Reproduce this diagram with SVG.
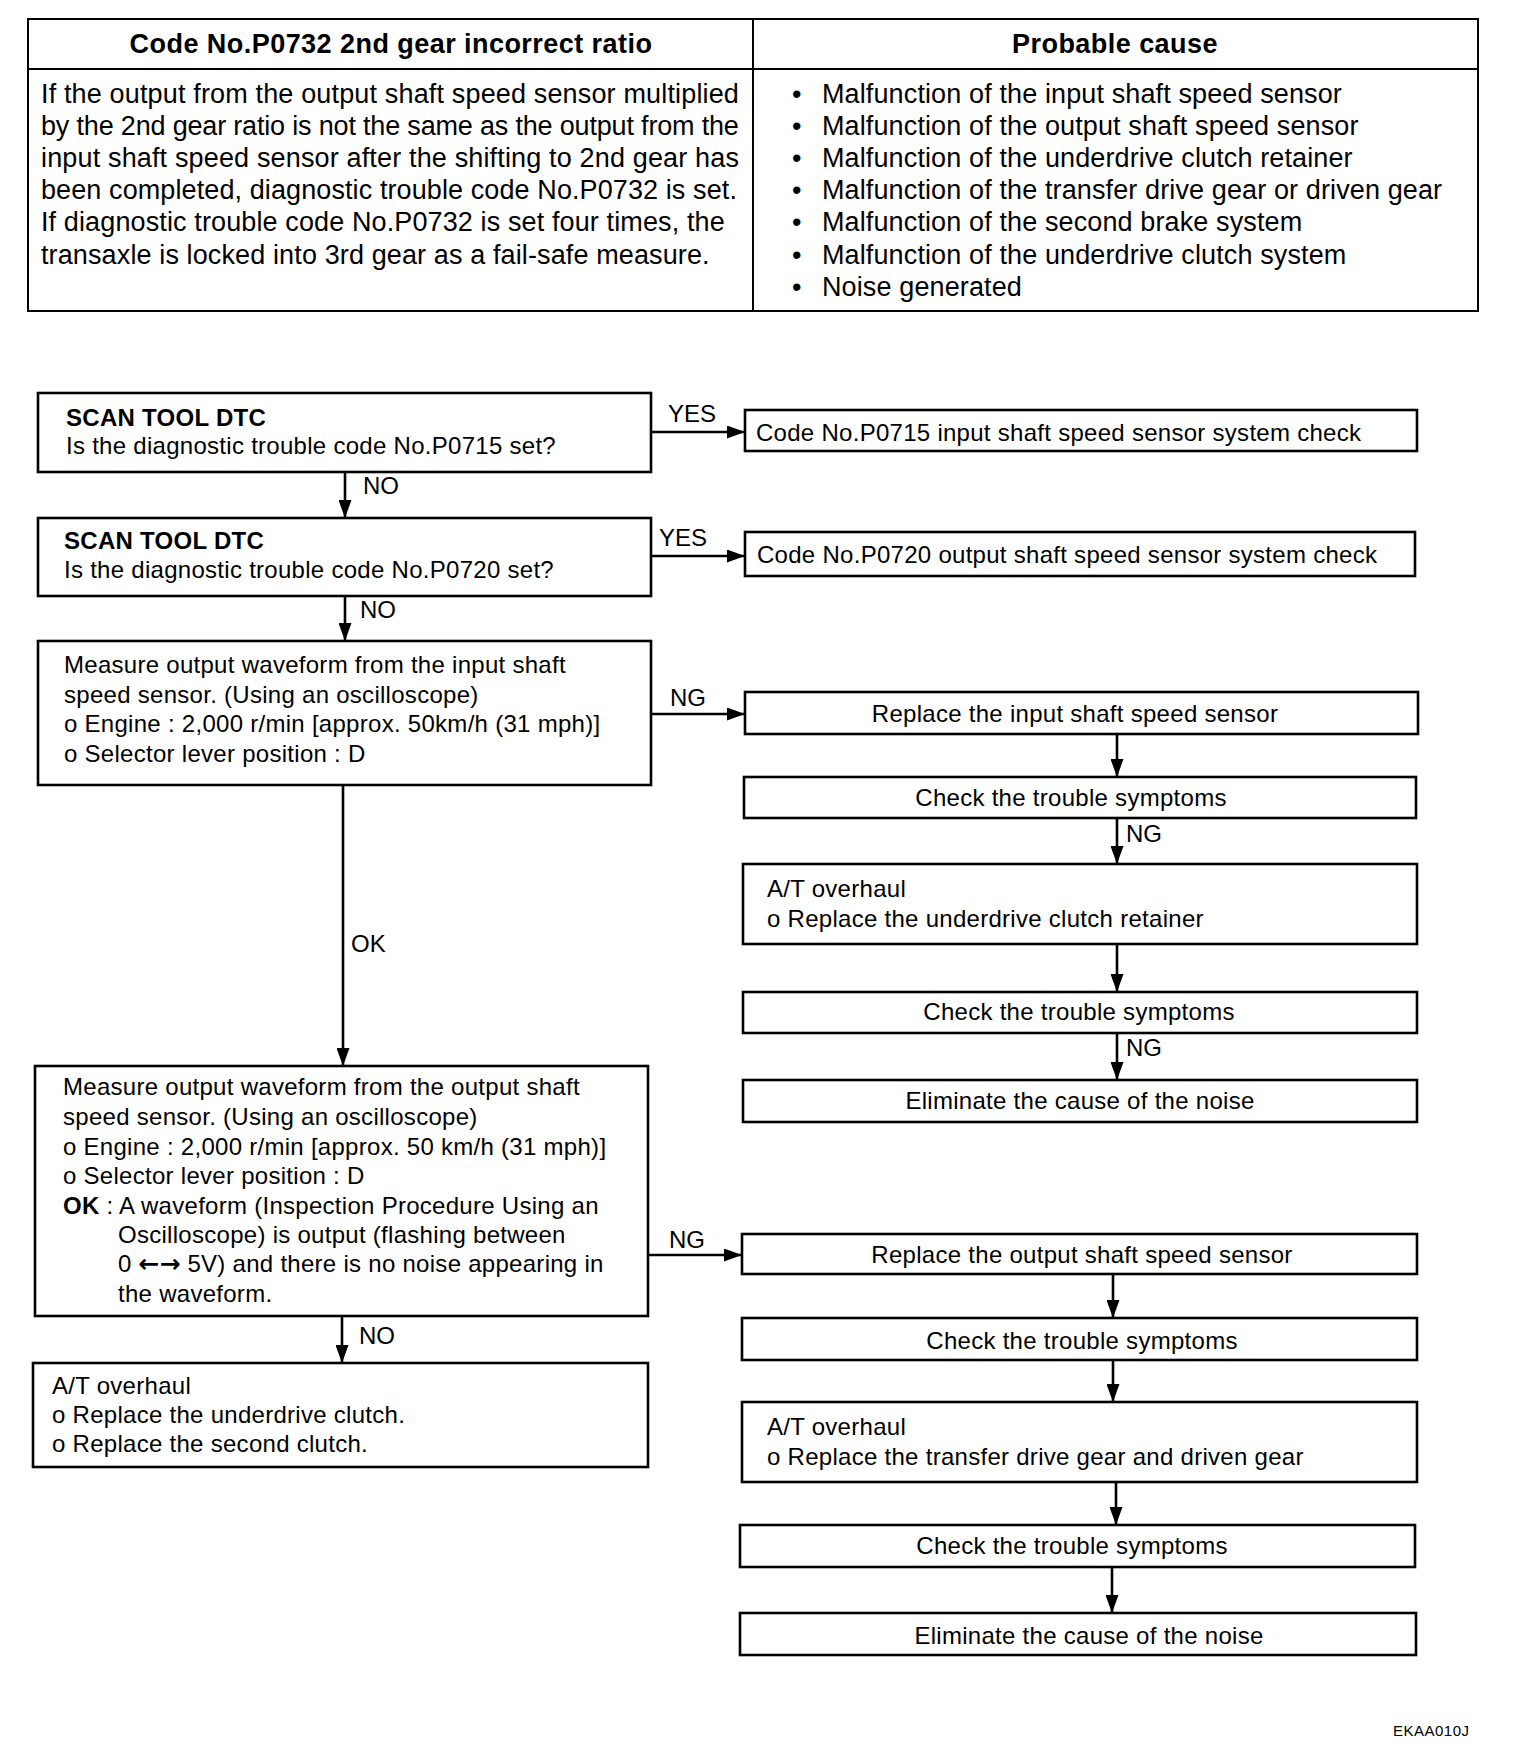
<svg xmlns="http://www.w3.org/2000/svg" width="1520" height="1756" viewBox="0 0 1520 1756">
<style>
.bg{fill:#fff}
.box{fill:#fff;stroke:#000;stroke-width:2.6}
.tbl{fill:none;stroke:#000;stroke-width:2}
.t{font-family:"Liberation Sans",Arial,Helvetica,sans-serif;font-size:24px;fill:#000;letter-spacing:0.28px}
.tt{font-size:27px;letter-spacing:0.12px}
.b{font-weight:bold}
.hd{letter-spacing:0.45px}
.c{text-anchor:middle}
.conn{stroke:#000;stroke-width:2.6;fill:none}
.lbl{font-family:"Liberation Sans",Arial,Helvetica,sans-serif;font-size:24px;fill:#000}
.arr{font-family:"DejaVu Sans",sans-serif;font-size:25px;font-weight:bold;letter-spacing:0px}
</style>
<defs>
<marker id="ah" markerUnits="userSpaceOnUse" markerWidth="18" markerHeight="13" refX="18" refY="6.5" orient="auto">
<path d="M0,0 L18,6.5 L0,13 z" fill="#000"/>
</marker>
</defs>
<rect class="bg" x="0" y="0" width="1520" height="1756"/>

<g id="table">
<rect class="tbl" x="28" y="19" width="1450" height="292"/>
<line class="tbl" x1="28" y1="69" x2="1478" y2="69"/>
<line class="tbl" x1="753" y1="19" x2="753" y2="311"/>
<text class="t tt b c hd" x="391" y="53">Code No.P0732 2nd gear incorrect ratio</text>
<text class="t tt b c hd" x="1115" y="53">Probable cause</text>
<text class="t tt" x="41" y="102.5" textLength="698">If the output from the output shaft speed sensor multiplied</text>
<text class="t tt" x="41" y="134.7" textLength="698">by the 2nd gear ratio is not the same as the output from the</text>
<text class="t tt" x="41" y="166.9" textLength="698">input shaft speed sensor after the shifting to 2nd gear has</text>
<text class="t tt" x="41" y="199.1" textLength="696">been completed, diagnostic trouble code No.P0732 is set.</text>
<text class="t tt" x="41" y="231.3">If diagnostic trouble code No.P0732 is set four times, the</text>
<text class="t tt" x="41" y="263.5">transaxle is locked into 3rd gear as a fail-safe measure.</text>
<text class="t tt" x="792" y="102.5">•</text>
<text class="t tt" x="822" y="102.5">Malfunction of the input shaft speed sensor</text>
<text class="t tt" x="792" y="134.7">•</text>
<text class="t tt" x="822" y="134.7">Malfunction of the output shaft speed sensor</text>
<text class="t tt" x="792" y="166.9">•</text>
<text class="t tt" x="822" y="166.9">Malfunction of the underdrive clutch retainer</text>
<text class="t tt" x="792" y="199.1">•</text>
<text class="t tt" x="822" y="199.1">Malfunction of the transfer drive gear or driven gear</text>
<text class="t tt" x="792" y="231.3">•</text>
<text class="t tt" x="822" y="231.3">Malfunction of the second brake system</text>
<text class="t tt" x="792" y="263.5">•</text>
<text class="t tt" x="822" y="263.5">Malfunction of the underdrive clutch system</text>
<text class="t tt" x="792" y="295.7">•</text>
<text class="t tt" x="822" y="295.7">Noise generated</text>
</g>

<g id="connectors">
<line class="conn" x1="651" y1="432" x2="745" y2="432" marker-end="url(#ah)"/>
<text class="lbl" x="668" y="422">YES</text>
<line class="conn" x1="345" y1="472" x2="345" y2="518" marker-end="url(#ah)"/>
<text class="lbl" x="363" y="494">NO</text>
<line class="conn" x1="651" y1="556" x2="745" y2="556" marker-end="url(#ah)"/>
<text class="lbl" x="659" y="546">YES</text>
<line class="conn" x1="345" y1="596" x2="345" y2="641" marker-end="url(#ah)"/>
<text class="lbl" x="360" y="618">NO</text>
<line class="conn" x1="651" y1="714" x2="745" y2="714" marker-end="url(#ah)"/>
<text class="lbl" x="670" y="706">NG</text>
<line class="conn" x1="343" y1="785" x2="343" y2="1066" marker-end="url(#ah)"/>
<text class="lbl" x="351" y="952">OK</text>
<line class="conn" x1="1117" y1="734" x2="1117" y2="777" marker-end="url(#ah)"/>
<line class="conn" x1="1117" y1="818" x2="1117" y2="864" marker-end="url(#ah)"/>
<text class="lbl" x="1126" y="842">NG</text>
<line class="conn" x1="1117" y1="944" x2="1117" y2="992" marker-end="url(#ah)"/>
<line class="conn" x1="1117" y1="1033" x2="1117" y2="1080" marker-end="url(#ah)"/>
<text class="lbl" x="1126" y="1056">NG</text>
<line class="conn" x1="648" y1="1255" x2="742" y2="1255" marker-end="url(#ah)"/>
<text class="lbl" x="669" y="1248">NG</text>
<line class="conn" x1="342" y1="1316" x2="342" y2="1363" marker-end="url(#ah)"/>
<text class="lbl" x="359" y="1344">NO</text>
<line class="conn" x1="1113" y1="1274" x2="1113" y2="1318" marker-end="url(#ah)"/>
<line class="conn" x1="1113" y1="1360" x2="1113" y2="1402" marker-end="url(#ah)"/>
<line class="conn" x1="1116" y1="1482" x2="1116" y2="1525" marker-end="url(#ah)"/>
<line class="conn" x1="1112" y1="1567" x2="1112" y2="1613" marker-end="url(#ah)"/>
</g>

<g id="node-dtc-p0715">
<rect class="box" x="38" y="393" width="613" height="79"/>
<text class="t b" x="66" y="426">SCAN TOOL DTC</text>
<text class="t" x="66" y="454">Is the diagnostic trouble code No.P0715 set?</text>
</g>
<g id="node-dtc-p0720">
<rect class="box" x="38" y="518" width="613" height="78"/>
<text class="t b" x="64" y="549">SCAN TOOL DTC</text>
<text class="t" x="64" y="578">Is the diagnostic trouble code No.P0720 set?</text>
</g>
<g id="node-measure-input">
<rect class="box" x="38" y="641" width="613" height="144"/>
<text class="t" x="64" y="673">Measure output waveform from the input shaft</text>
<text class="t" x="64" y="702.5">speed sensor. (Using an oscilloscope)</text>
<text class="t" x="64" y="732">o Engine : 2,000 r/min [approx. 50km/h (31 mph)]</text>
<text class="t" x="64" y="761.5">o Selector lever position : D</text>
</g>
<g id="node-measure-output">
<rect class="box" x="35" y="1066" width="613" height="250"/>
<text class="t" x="63" y="1095">Measure output waveform from the output shaft</text>
<text class="t" x="63" y="1125">speed sensor. (Using an oscilloscope)</text>
<text class="t" x="63" y="1154.5">o Engine : 2,000 r/min [approx. 50 km/h (31 mph)]</text>
<text class="t" x="63" y="1184">o Selector lever position : D</text>
<text class="t" x="63" y="1214"><tspan class="b">OK</tspan> : A waveform (Inspection Procedure Using an</text>
<text class="t" x="118" y="1243">Oscilloscope) is output (flashing between</text>
<text class="t" x="118" y="1272">0 <tspan class="arr">←→</tspan> 5V) and there is no noise appearing in</text>
<text class="t" x="118" y="1302">the waveform.</text>
</g>
<g id="node-overhaul-clutch">
<rect class="box" x="33" y="1363" width="615" height="104"/>
<text class="t" x="52" y="1394">A/T overhaul</text>
<text class="t" x="52" y="1423">o Replace the underdrive clutch.</text>
<text class="t" x="52" y="1452">o Replace the second clutch.</text>
</g>

<g id="node-p0715-check">
<rect class="box" x="745" y="410" width="672" height="41"/>
<text class="t" x="756" y="441">Code No.P0715 input shaft speed sensor system check</text>
</g>
<g id="node-p0720-check">
<rect class="box" x="745" y="532" width="670" height="44"/>
<text class="t" x="757" y="563">Code No.P0720 output shaft speed sensor system check</text>
</g>
<g id="node-replace-input">
<rect class="box" x="745" y="692" width="673" height="42"/>
<text class="t c" x="1075" y="722">Replace the input shaft speed sensor</text>
</g>
<g id="node-check-1">
<rect class="box" x="744" y="777" width="672" height="41"/>
<text class="t c" x="1071" y="806">Check the trouble symptoms</text>
</g>
<g id="node-overhaul-retainer">
<rect class="box" x="743" y="864" width="674" height="80"/>
<text class="t" x="767" y="897">A/T overhaul</text>
<text class="t" x="767" y="927">o Replace the underdrive clutch retainer</text>
</g>
<g id="node-check-2">
<rect class="box" x="743" y="992" width="674" height="41"/>
<text class="t c" x="1079" y="1020">Check the trouble symptoms</text>
</g>
<g id="node-eliminate-1">
<rect class="box" x="743" y="1080" width="674" height="42"/>
<text class="t c" x="1080" y="1109">Eliminate the cause of the noise</text>
</g>
<g id="node-replace-output">
<rect class="box" x="742" y="1234" width="675" height="40"/>
<text class="t c" x="1082" y="1263">Replace the output shaft speed sensor</text>
</g>
<g id="node-check-3">
<rect class="box" x="742" y="1318" width="675" height="42"/>
<text class="t c" x="1082" y="1349">Check the trouble symptoms</text>
</g>
<g id="node-overhaul-transfer">
<rect class="box" x="742" y="1402" width="675" height="80"/>
<text class="t" x="767" y="1435">A/T overhaul</text>
<text class="t" x="767" y="1465">o Replace the transfer drive gear and driven gear</text>
</g>
<g id="node-check-4">
<rect class="box" x="740" y="1525" width="675" height="42"/>
<text class="t c" x="1072" y="1554">Check the trouble symptoms</text>
</g>
<g id="node-eliminate-2">
<rect class="box" x="740" y="1613" width="676" height="42"/>
<text class="t c" x="1089" y="1644">Eliminate the cause of the noise</text>
</g>

<text class="t" x="1393" y="1736" style="font-size:15px;letter-spacing:0.5px">EKAA010J</text>
</svg>
